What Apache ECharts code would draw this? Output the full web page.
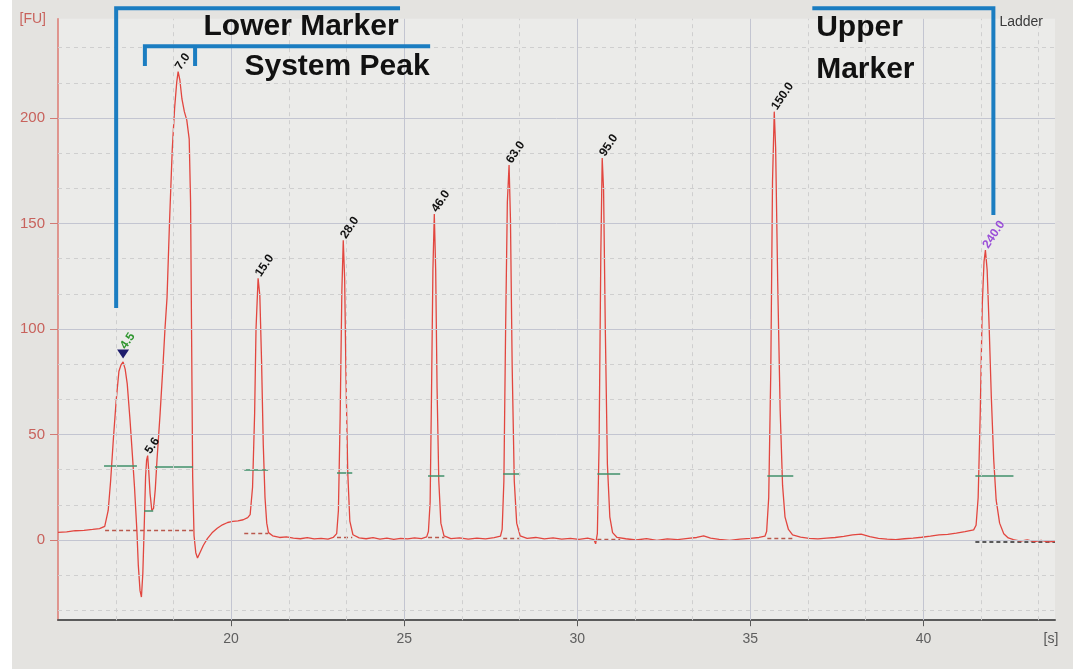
<!DOCTYPE html>
<html>
<head>
<meta charset="utf-8">
<script src="https://cdn.jsdelivr.net/npm/echarts@6/dist/echarts.min.js"></script>
<style>
  html, body { margin: 0; padding: 0; background: #ffffff; }
  #chart { position: absolute; left: 12px; top: 0; width: 1061px; height: 669px; }
</style>
</head>
<body>
<div id="chart"></div>
<script>
// Electropherogram of a ladder run: migration time [s] against fluorescence [FU]

// Fluorescence trace, [time (s), signal (FU)]
const trace = [
  [15.00, 3.6], [15.25, 3.9], [15.50, 4.4], [15.75, 4.6], [16.00, 5.0], [16.20, 5.4], [16.35, 6.5],
  [16.45, 14], [16.52, 28], [16.60, 48], [16.68, 66], [16.76, 80], [16.82, 83], [16.88, 84.4], [16.94, 81],
  [17.00, 74], [17.08, 57], [17.15, 40], [17.21, 25], [17.28, 4], [17.32, -12], [17.37, -24], [17.41, -27],
  [17.45, -16], [17.49, 6], [17.53, 30], [17.56, 38], [17.59, 40], [17.62, 33], [17.66, 22], [17.71, 14],
  [17.76, 15], [17.81, 24], [17.86, 38], [17.95, 60], [18.03, 82], [18.09, 100], [18.15, 115], [18.22, 150],
  [18.30, 185], [18.37, 205], [18.43, 217], [18.47, 222], [18.52, 218], [18.58, 209], [18.65, 203],
  [18.72, 199], [18.79, 190], [18.83, 160], [18.86, 95], [18.89, 30], [18.93, 2], [18.98, -6], [19.03, -8.5],
  [19.10, -6], [19.20, -2.5], [19.32, 0.8], [19.45, 3.4], [19.60, 5.6], [19.75, 7.2], [19.90, 8.3],
  [20.05, 8.8], [20.20, 9.1], [20.35, 9.6], [20.48, 10.6],
  [20.55, 12], [20.62, 25], [20.68, 60], [20.72, 100], [20.78, 124], [20.83, 116], [20.88, 85], [20.93, 45],
  [20.98, 20], [21.03, 8], [21.08, 3.5], [21.20, 2], [21.40, 1.2], [21.60, 1.5], [21.80, 0.9], [22.00, 0.6],
  [22.20, 1.1], [22.40, 0.5], [22.60, 0.8], [22.80, 0.4], [22.95, 1.2],
  [23.05, 3], [23.10, 14], [23.15, 58], [23.20, 118], [23.24, 142], [23.28, 124], [23.32, 76], [23.37, 32],
  [23.43, 9], [23.52, 2.5], [23.70, 1.0], [23.90, 0.6], [24.10, 1.1], [24.30, 0.4], [24.50, 0.9], [24.70, 0.3],
  [24.90, 0.8], [25.10, 0.5], [25.30, 1.0], [25.50, 0.7], [25.65, 1.5],
  [25.70, 4], [25.75, 18], [25.79, 70], [25.83, 128], [25.87, 154.5], [25.91, 128], [25.95, 72], [26.00, 28],
  [26.06, 8], [26.15, 2], [26.35, 0.7], [26.60, 1.0], [26.85, 0.4], [27.10, 0.9], [27.35, 0.5], [27.60, 1.1],
  [27.78, 1.8],
  [27.83, 5], [27.88, 28], [27.93, 100], [27.98, 160], [28.03, 177.7], [28.07, 152], [28.12, 82], [28.18, 28],
  [28.25, 8], [28.35, 2], [28.55, 0.8], [28.80, 1.2], [29.05, 0.5], [29.30, 1.0], [29.55, 0.4], [29.80, 0.8],
  [30.05, 0.3], [30.30, 0.9], [30.48, 0.2],
  [30.53, -1.8], [30.58, 3], [30.63, 45], [30.68, 135], [30.72, 181], [30.76, 166], [30.81, 100], [30.87, 36],
  [30.94, 11], [31.02, 3.5], [31.15, 1.2], [31.40, 0.6], [31.70, 0.0], [32.00, 0.7], [32.30, -0.2],
  [32.60, 0.5], [32.90, 0.2], [33.20, 0.8], [33.45, 1.2], [33.65, 2.0], [33.85, 0.9], [34.10, 0.3],
  [34.40, -0.2], [34.70, 0.4], [35.00, 0.8], [35.25, 1.2], [35.42, 1.8],
  [35.47, 4], [35.53, 20], [35.59, 80], [35.64, 170], [35.69, 203], [35.73, 186], [35.79, 122], [35.86, 62],
  [35.93, 26], [36.00, 11], [36.10, 5], [36.22, 2.4], [36.45, 1.4], [36.70, 0.8], [36.95, 0.5], [37.20, 0.9],
  [37.45, 1.2], [37.70, 1.7], [37.95, 2.4], [38.20, 2.8], [38.45, 1.6], [38.70, 0.8], [38.95, 0.4],
  [39.20, 0.2], [39.45, 0.6], [39.70, 0.9], [39.95, 1.3], [40.20, 1.8], [40.45, 2.4], [40.70, 2.7],
  [40.95, 3.3], [41.20, 4.0], [41.45, 4.8],
  [41.52, 7], [41.58, 20], [41.64, 60], [41.70, 112], [41.75, 132], [41.79, 137.4], [41.84, 128], [41.90, 100],
  [41.96, 68], [42.03, 38], [42.10, 19], [42.20, 8], [42.32, 3], [42.45, 1.0], [42.60, 0.2], [42.80, -0.5],
  [43.00, 0.1], [43.20, -0.8], [43.40, -0.2], [43.60, -0.9], [43.80, -0.6]
];

// Called peaks: apex time, apex height and size label
const peakTimes   = [16.88, 17.59, 18.47, 20.78, 23.24, 25.87, 28.03, 30.72, 35.69, 41.79];
const peakHeights = [84.4, 40, 222, 124, 142, 154.5, 177.7, 181, 203, 137.4];
const peakLabels  = ['4.5', '5.6', '7.0', '15.0', '28.0', '46.0', '63.0', '95.0', '150.0', '240.0'];

// Peak integration windows [start s, end s, level FU]
const peakWindows = [
  [16.33, 17.28, 35], [17.49, 17.75, 14], [17.80, 18.90, 34.6], [20.38, 21.07, 33.2], [23.06, 23.50, 31.8],
  [25.69, 26.16, 30.3], [27.86, 28.35, 31.3], [30.58, 31.24, 31.3], [35.49, 36.24, 30.3], [41.50, 42.60, 30.3]
];
// Peak baselines [start s, end s, level FU]
const peakBaselines = [
  [16.36, 18.90, 4.7], [20.38, 21.07, 3.3], [23.06, 23.50, 1.5], [25.69, 26.16, 1.2],
  [27.86, 28.35, 1.0], [30.58, 31.24, 0.5], [35.49, 36.24, 1.0]
];
const upperMarkerBaseline = [[41.50, 43.80, -0.9]];

// Axis tick values
const xTicks = [20, 25, 30, 35, 40];
const yTicks = [0, 50, 100, 150, 200];

// ---- styling ----
const labelColor = { '4.5': '#2f962f', '240.0': '#9a4fd8' };
const bracketBlue = '#1b7dc1';
const X_MIN = 15, X_MAX = 43.8, Y_MIN = -38, Y_MAX = 247;

// Grid: solid lines on the labelled ticks, dashed lines at thirds between them
const gridMarks = [];
for (let k = 1; 15 + k * 5 / 3 < X_MAX; k++) {
  const t = 15 + k * 5 / 3;
  gridMarks.push({ xAxis: t, lineStyle: k % 3 === 0
    ? { type: 'solid', color: '#c3c5d1', width: 1 }
    : { type: [4, 4], color: '#cfcfcf', width: 1 } });
}
for (let k = -2; k * 50 / 3 < Y_MAX; k++) {
  const v = k * 50 / 3;
  gridMarks.push({ yAxis: v, lineStyle: k % 3 === 0
    ? { type: 'solid', color: '#c3c5d1', width: 1 }
    : { type: [4, 4], color: '#cfcfcf', width: 1 } });
}

function segments(list) {
  return list.map(s => ({ coords: [[s[0], s[2]], [s[1], s[2]]] }));
}

const chart = echarts.init(document.getElementById('chart'), null, { renderer: 'canvas' });

const option = {
  animation: false,
  backgroundColor: '#e4e3e0',
  textStyle: { fontFamily: 'Liberation Sans, Arial, sans-serif' },
  title: {
    text: 'Ladder', right: 25, top: 10,
    textStyle: { fontSize: 14, fontWeight: 'normal', color: '#3a3a3a' }
  },
  grid: {
    left: 46, right: 18, top: 18.8, bottom: 48.8,
    show: true, backgroundColor: '#ebebe9', borderWidth: 0
  },
  xAxis: {
    type: 'value', min: X_MIN, max: X_MAX, interval: 5,
    name: '[s]', nameLocation: 'end', nameGap: -4,
    nameTextStyle: { color: '#555', fontSize: 14, align: 'center', verticalAlign: 'top', padding: [12, 0, 0, 0] },
    axisLine: { show: true, onZero: false, lineStyle: { color: '#5a5a5a', width: 2 } },
    axisTick: { show: true, customValues: xTicks, length: 6, lineStyle: { color: '#5a5a5a' } },
    axisLabel: { customValues: xTicks, color: '#5e5e5e', fontSize: 14, margin: 12 },
    splitLine: { show: false }
  },
  yAxis: {
    type: 'value', min: Y_MIN, max: Y_MAX, splitNumber: 5,
    name: '[FU]', nameLocation: 'end', nameGap: 0,
    nameTextStyle: { color: '#c8625c', fontSize: 14, align: 'right', verticalAlign: 'middle', padding: [0, 12, 0, 0] },
    axisLine: { show: true, onZero: false, lineStyle: { color: '#dc7a72', width: 1.5 } },
    axisTick: { show: true, customValues: yTicks, length: 8, lineStyle: { color: '#d27a74' } },
    axisLabel: { customValues: yTicks, color: '#c8625c', fontSize: 15, margin: 13 },
    splitLine: { show: false }
  },
  series: [
    {
      // background grid
      name: 'grid', type: 'line', data: [], z: 1, silent: true,
      markLine: { silent: true, symbol: 'none', label: { show: false }, data: gridMarks, animation: false }
    },
    {
      name: 'baselines', type: 'lines', coordinateSystem: 'cartesian2d', z: 2, silent: true,
      lineStyle: { color: '#b9584c', width: 1.3, type: [4, 3], opacity: 1 },
      data: segments(peakBaselines)
    },
    {
      name: 'upper baseline', type: 'lines', coordinateSystem: 'cartesian2d', z: 2, silent: true,
      lineStyle: { color: '#2a2a2a', width: 1.5, type: [4, 3], opacity: 1 },
      data: segments(upperMarkerBaseline)
    },
    {
      name: 'trace', type: 'line', data: trace, z: 3, showSymbol: false, smooth: false,
      lineStyle: { color: '#e2463f', width: 1.3 }
    },
    {
      name: 'windows', type: 'lines', coordinateSystem: 'cartesian2d', z: 4, silent: true,
      lineStyle: { color: '#41906a', width: 1.5, opacity: 1 },
      data: segments(peakWindows)
    },
    {
      // lower-marker apex triangle
      name: 'marker', type: 'scatter', z: 5, silent: true,
      symbol: 'triangle', symbolRotate: 180, symbolSize: [12, 9], symbolOffset: [0, -8],
      itemStyle: { color: '#1e1c6c', opacity: 1 },
      data: [[peakTimes[0], peakHeights[0]]]
    },
    {
      name: 'peak labels', type: 'scatter', z: 6, silent: true, symbolSize: 0,
      itemStyle: { opacity: 1 },
      data: peakTimes.map((t, i) => ({
        value: [t, peakHeights[i]], name: peakLabels[i],
        label: { color: labelColor[peakLabels[i]] || '#111111', distance: i === 0 ? 14 : 3 }
      })),
      label: {
        show: true, formatter: '{b}', position: 'top', rotate: 56, align: 'left', verticalAlign: 'middle',
        fontSize: 12, fontWeight: 'bold', opacity: 1
      }
    },
    {
      name: 'lower marker bracket', type: 'line', z: 7, clip: false, silent: true, showSymbol: false,
      lineStyle: { color: bracketBlue, width: 4, cap: 'butt', join: 'miter' },
      data: [[16.68, 110], [16.68, 252], [24.88, 252]]
    },
    {
      name: 'system peak bracket', type: 'line', z: 7, clip: false, silent: true, showSymbol: false,
      lineStyle: { color: bracketBlue, width: 4, cap: 'butt', join: 'miter' },
      data: [[17.51, 224.6], [17.51, 234], [18.96, 234], [18.96, 224.6], [18.96, 234], [25.75, 234]]
    },
    {
      name: 'upper marker bracket', type: 'line', z: 7, clip: false, silent: true, showSymbol: false,
      lineStyle: { color: bracketBlue, width: 4, cap: 'butt', join: 'miter' },
      data: [[36.79, 252], [42.02, 252], [42.02, 154]]
    },
    {
      name: 'bracket captions', type: 'scatter', z: 8, clip: false, silent: true, symbolSize: 0,
      itemStyle: { opacity: 1 },
      label: {
        show: true, formatter: '{b}', position: 'inside', color: '#111111', opacity: 1,
        fontSize: 30, fontWeight: 'bold', lineHeight: 42, fontFamily: 'Liberation Sans, Arial, sans-serif'
      },
      data: [
        { name: 'Lower Marker', value: [22.02, 243.1], label: { align: 'center' } },
        { name: 'System Peak', value: [23.06, 224.2], label: { align: 'center' } },
        { name: 'Upper\nMarker', value: [36.9, 232.7], label: { align: 'left' } }
      ]
    }
  ]
};

chart.setOption(option);
</script>
</body>
</html>
